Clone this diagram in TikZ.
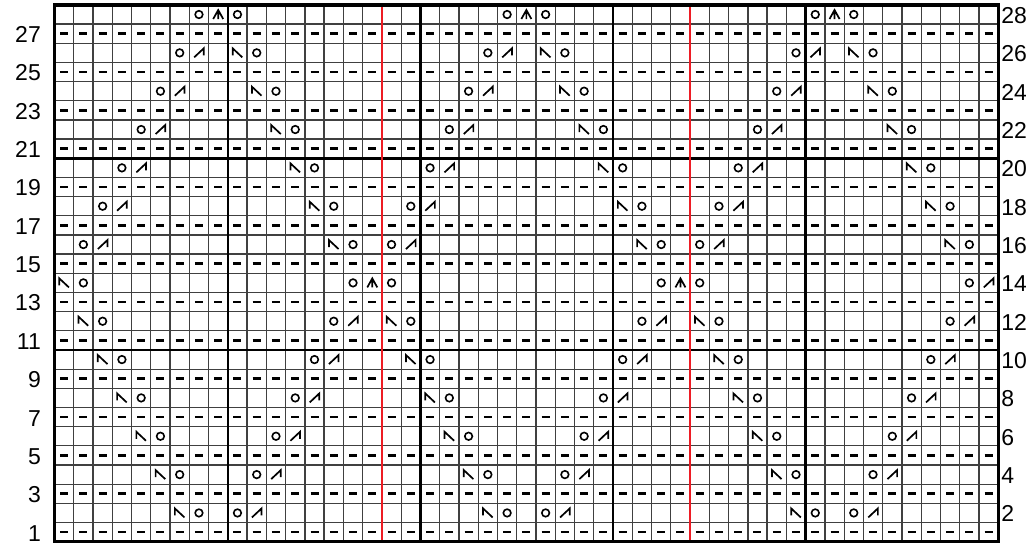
\documentclass[tikz,border=0pt]{standalone}
\usepackage{fontspec}
\setmainfont{Liberation Sans}
\usepackage{tikz}
\definecolor{chartred}{RGB}{237,28,36}
\tikzset{
  yo/.pic={\draw[line width=1.6pt] (0,0) circle (3.8pt);},
  ktog/.pic={\draw[line width=1.7pt] (-4.8pt,-4.5pt) -- (4.8pt,4.5pt) -- (4.8pt,-2.5pt);},
  sskdec/.pic={\draw[line width=1.7pt] (4.8pt,-4.5pt) -- (-4.8pt,4.5pt) -- (-4.8pt,-2.5pt);},
  cdd/.pic={\draw[line width=1.7pt] (-5pt,-4.5pt) -- (0,4.5pt) -- (5pt,-4.5pt) (0,4.5pt) -- (0,-4.5pt);},
  purlbar/.pic={\draw[line width=2.6pt] (-4pt,0) -- (4pt,0);},
  thinrule/.style={line width=1.3pt,black!75},
  thickrule/.style={line width=2.6pt,black},
  repeatrule/.style={line width=2.6pt,chartred},
  rownum/.style={inner sep=0pt,font=\fontsize{23}{23}\selectfont}
}

\begin{document}
\begin{tikzpicture}[x=19.26pt,y=19.17pt]
\useasboundingbox (-54.5pt,-3.3pt) rectangle ++(1026pt,545pt);
\foreach \c in {1,...,48} \draw[thinrule] (\c,0) -- (\c,28);
\foreach \r in {1,...,27} \draw[thinrule] (0,\r) -- (49,\r);
\foreach \c in {9,19,29,39} \draw[thickrule] (\c,0) -- (\c,28);
\foreach \r in {10,20} \draw[thickrule] (0,\r) -- (49,\r);
\draw[repeatrule] (17,0) -- (17,28);
\draw[repeatrule] (33,0) -- (33,28);
\draw[line width=3.2pt] (0,0) rectangle (49,28);
% wrong-side rows
\foreach \r in {1,3,...,27}
  \foreach \c in {0,...,48}
    \pic at (\c+0.5,\r-0.5) {purlbar};
% upper diamonds
\foreach \m in {8,24,40} {
  \pic at (\m-0.5,27.5) {yo};
  \pic at (\m+0.5,27.5) {cdd};
  \pic at (\m+1.5,27.5) {yo};
  \foreach \k in {1,...,6} {
    \pic at (\m-\k-0.5,27.5-2*\k) {yo};
    \pic at (\m-\k+0.5,27.5-2*\k) {ktog};
    \pic at (\m+\k+0.5,27.5-2*\k) {sskdec};
    \pic at (\m+\k+1.5,27.5-2*\k) {yo};
  }
}
% lower diamonds
\foreach \m in {16,32} {
  \pic at (\m-0.5,13.5) {yo};
  \pic at (\m+0.5,13.5) {cdd};
  \pic at (\m+1.5,13.5) {yo};
  \foreach \k in {1,...,6} {
    \pic at (\m-\k-0.5,13.5-2*\k) {yo};
    \pic at (\m-\k+0.5,13.5-2*\k) {ktog};
    \pic at (\m+\k+0.5,13.5-2*\k) {sskdec};
    \pic at (\m+\k+1.5,13.5-2*\k) {yo};
  }
}
% half diamonds at the edges
\foreach \k in {0,...,6} {
  \pic at (\k+0.5,13.5-2*\k) {sskdec};
  \pic at (\k+1.5,13.5-2*\k) {yo};
  \pic at (47.5-\k,13.5-2*\k) {yo};
  \pic at (48.5-\k,13.5-2*\k) {ktog};
}
\foreach \r in {1,3,...,27}
  \node[rownum,anchor=east,xshift=-13.5pt,yshift=-1pt] (left\r) at (0,\r-0.5) {\r};
\foreach \r in {2,4,...,28}
  \node[rownum,anchor=west,xshift=3pt,yshift=-1pt] (right\r) at (49,\r-0.5) {\r};
\end{tikzpicture}
\end{document}
